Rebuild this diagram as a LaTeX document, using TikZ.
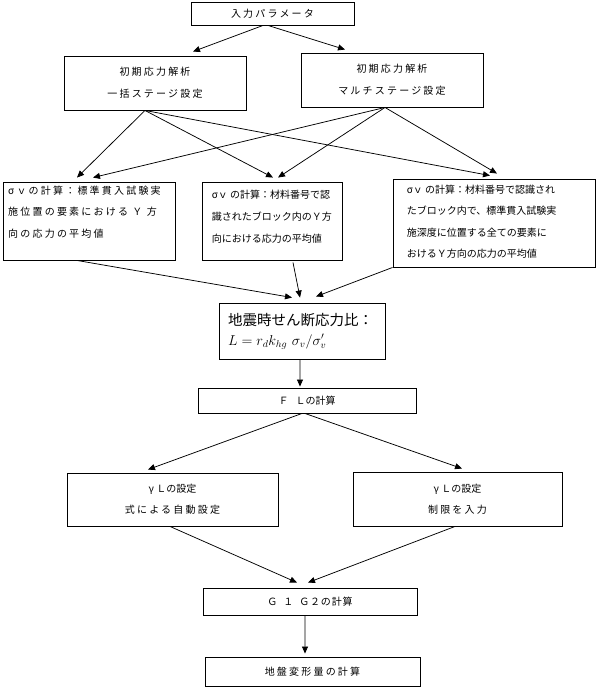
\documentclass[tikz,border=0pt]{standalone}
\usepackage{fontspec}
\setmainfont{Noto Sans CJK JP}
\newfontfamily\jpwide[LetterSpace=22]{Noto Sans CJK JP}
\newfontfamily\jpmid[LetterSpace=8]{Noto Sans CJK JP}
\usetikzlibrary{arrows.meta}
\begin{document}
\begin{tikzpicture}[x=1bp,y=-1bp,
  box/.style={draw, line width=0.9bp, inner sep=0pt, align=center},
  txt/.style={inner sep=0pt, align=left, anchor=north west},
  arr/.style={line width=0.75bp, -{Triangle[length=7bp,width=6bp]}}]
\useasboundingbox (0,0) rectangle (598,689);
% boxes
\node[box, minimum width=163bp, minimum height=23bp, font=\fontsize{10bp}{22bp}\selectfont\jpwide] (A) at (272.5,13.5) {入力パラメータ};
\node[box, minimum width=182bp, minimum height=54bp, font=\fontsize{10bp}{22bp}\selectfont\jpwide] (B1) at (155,83) {初期応力解析\\一括ステージ設定};
\node[box, minimum width=182bp, minimum height=54bp, font=\fontsize{10bp}{22bp}\selectfont\jpwide] (B2) at (392,80) {初期応力解析\\マルチステージ設定};
\node[box, minimum width=172bp, minimum height=78bp] (C1) at (89,221) {};
\node[box, minimum width=140bp, minimum height=78bp] (C2) at (272,221) {};
\node[box, minimum width=202bp, minimum height=88bp] (C3) at (494,223) {};
\node[txt, font=\fontsize{10bp}{21.5bp}\selectfont\jpwide] (C1t) at ([xshift=5.5bp,yshift=-4bp]C1.north west) {σｖの計算：標準貫入試験実\\施位置の要素における Ｙ 方\\向の応力の平均値};
\node[txt, font=\fontsize{10bp}{22bp}\selectfont] (C2t) at ([xshift=10bp,yshift=-8bp]C2.north west) {σｖ の計算：材料番号で認\\識されたブロック内のＹ方\\向における応力の平均値};
\node[txt, font=\fontsize{10bp}{21.5bp}\selectfont] (C3t) at ([xshift=14bp,yshift=-6bp]C3.north west) {σｖ の計算：材料番号で認識され\\たブロック内で、標準貫入試験実\\施深度に位置する全ての要素に\\おけるＹ方向の応力の平均値};
\node[box, minimum width=166bp, minimum height=56bp, text width=148bp, align=left, font=\fontsize{14.5bp}{20bp}\selectfont] (D) at (302,331) {地震時せん断応力比：\\$\fontsize{13bp}{13bp}\selectfont L = r_d k_{hg}\ \sigma_v/\sigma'_v$};
\node[box, minimum width=218bp, minimum height=25bp, font=\fontsize{10bp}{22bp}\selectfont] (E) at (307,400.5) {Ｆ\hspace{7bp}Ｌの計算};
\node[box, minimum width=211bp, minimum height=53bp, font=\fontsize{10bp}{21bp}\selectfont] (F1) at (172.5,499.5) {γ Ｌの設定\\{\jpwide 式による自動設定}};
\node[box, minimum width=209bp, minimum height=54bp, font=\fontsize{10bp}{21bp}\selectfont] (F2) at (457.5,499) {γ Ｌの設定\\{\jpwide 制限を入力}};
\node[box, minimum width=214bp, minimum height=27bp, font=\fontsize{10bp}{22bp}\selectfont\jpmid] (G) at (310,601.5) {Ｇ\hspace{6bp}１\hspace{6bp}Ｇ２の計算};
\node[box, minimum width=215bp, minimum height=29bp, font=\fontsize{10bp}{22bp}\selectfont\jpwide] (H) at (312.5,671.5) {地盤変形量の計算};
% connectors
\draw[arr] ([xshift=-9.5bp]A.south) -- ([xshift=38bp,yshift=4bp]B1.north);
\draw[arr] ([xshift=-4.5bp]A.south) -- ([xshift=-47bp,yshift=3bp]B2.north);
\draw[arr] ([xshift=-10bp]B1.south) -- ([xshift=-12bp,yshift=4bp]C1.north);
\draw[arr] ([xshift=-10bp]B1.south) -- ([xshift=1bp,yshift=4bp]C2.north);
\draw[arr] ([xshift=-10bp]B1.south) -- ([xshift=-4bp,yshift=3bp]C3.north);
\draw[arr] ([xshift=-7bp]B2.south) -- ([xshift=4bp,yshift=4bp]C1.north);
\draw[arr] ([xshift=-7bp]B2.south) -- ([xshift=6bp,yshift=4bp]C2.north);
\draw[arr] ([xshift=-7bp]B2.south) -- ([xshift=3bp,yshift=5bp]C3.north);
\draw[arr] ([xshift=-12bp]C1.south) -- ([xshift=-10bp,yshift=5bp]D.north);
\draw[arr] ([xshift=21bp,yshift=-2bp]C2.south) -- ([xshift=-2bp,yshift=5bp]D.north);
\draw[arr] (C3.south west) -- ([xshift=14bp,yshift=6bp]D.north);
\draw[arr] ([xshift=-2bp]D.south) -- ([xshift=-7bp,yshift=1bp]E.north);
\draw[arr] ([xshift=-5bp]E.south) -- ([xshift=-24.5bp,yshift=3bp]F1.north);
\draw[arr] ([xshift=-2bp]E.south) -- ([xshift=4.5bp,yshift=3bp]F2.north);
\draw[arr] ([xshift=-2.5bp]F1.south) -- ([xshift=-13bp,yshift=5bp]G.north);
\draw[arr] ([xshift=-2.5bp]F2.south) -- ([xshift=-2bp,yshift=5bp]G.north);
\draw[arr] ([xshift=-5bp]G.south) -- ([xshift=-7.5bp,yshift=3bp]H.north);
\end{tikzpicture}
\end{document}
